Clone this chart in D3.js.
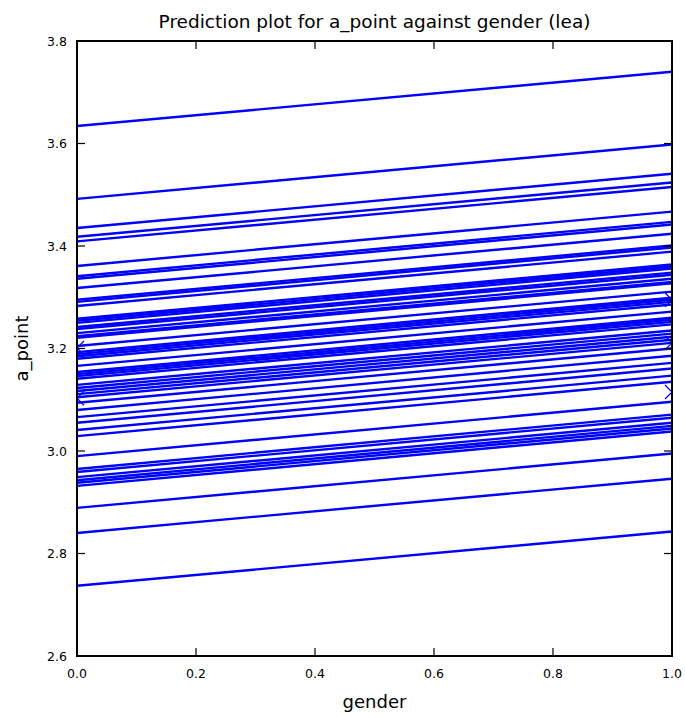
<!DOCTYPE html>
<html>
<head>
<meta charset="utf-8">
<script src="https://cdn.jsdelivr.net/npm/d3@7"></script>
<style>
  body { margin: 0; background: #fff; }
  svg { display: block; font-family: "DejaVu Sans", sans-serif; }
</style>
</head>
<body>
<svg id="chart" width="685" height="718"></svg>
<script>
// Predicted a_point per LEA at gender = 0 and gender = 1
const genderValues = [0, 1];
const predAtGender0 = [
  3.634, 3.492, 3.435, 3.418, 3.409, 3.361, 3.341, 3.336, 3.318, 3.295,
  3.291, 3.283, 3.258, 3.254, 3.250, 3.242, 3.238, 3.230, 3.224, 3.221,
  3.205, 3.193, 3.189, 3.185, 3.180, 3.166, 3.154, 3.150, 3.146, 3.141,
  3.129, 3.123, 3.117, 3.111, 3.105, 3.094, 3.080, 3.066, 3.055, 3.041,
  3.029, 2.990, 2.965, 2.959, 2.949, 2.943, 2.938, 2.932, 2.889, 2.840,
  2.737
];
const predAtGender1 = [
  3.740, 3.598, 3.541, 3.524, 3.515, 3.467, 3.447, 3.442, 3.424, 3.401,
  3.397, 3.389, 3.364, 3.360, 3.356, 3.348, 3.344, 3.336, 3.330, 3.327,
  3.311, 3.299, 3.295, 3.291, 3.286, 3.272, 3.260, 3.256, 3.252, 3.247,
  3.235, 3.229, 3.223, 3.217, 3.211, 3.200, 3.186, 3.172, 3.161, 3.147,
  3.135, 3.096, 3.071, 3.065, 3.055, 3.049, 3.044, 3.038, 2.995, 2.946,
  2.843
];
// Observed points (x markers)
const pointGender = [0, 0, 1, 1, 1];
const pointValue = [3.201, 3.103, 3.295, 3.211, 3.115];

const xTicks = [0.0, 0.2, 0.4, 0.6, 0.8, 1.0];
const yTicks = [2.6, 2.8, 3.0, 3.2, 3.4, 3.6, 3.8];

const svg = d3.select("#chart");
const margin = { left: 77, right: 13, top: 41, bottom: 62 };
const W = 685, H = 718;
const innerW = W - margin.left - margin.right;
const innerH = H - margin.top - margin.bottom;

const x = d3.scaleLinear().domain([0, 1]).range([0, innerW]);
const y = d3.scaleLinear().domain([2.6, 3.8]).range([innerH, 0]);

const g = svg.append("g").attr("transform", `translate(${margin.left},${margin.top})`);

g.append("clipPath").attr("id", "plotClip")
  .append("rect").attr("x", 0).attr("y", 0).attr("width", innerW).attr("height", innerH);

const plot = g.append("g").attr("clip-path", "url(#plotClip)");

const line = d3.line().x(d => x(d[0])).y(d => y(d[1]));
const lines = predAtGender0.map((v, i) => [[genderValues[0], v], [genderValues[1], predAtGender1[i]]]);

plot.selectAll("path.pred").data(lines).join("path")
  .attr("class", "pred")
  .attr("d", line)
  .attr("fill", "none")
  .attr("stroke", "#0000ff")
  .attr("stroke-width", 2.4);

// x markers
const ms = 7;
const pts = pointGender.map((gv, i) => [gv, pointValue[i]]);
plot.selectAll("path.pt").data(pts).join("path")
  .attr("class", "pt")
  .attr("d", d => {
    const cx = x(d[0]), cy = y(d[1]);
    return `M${cx - ms},${cy - ms}L${cx + ms},${cy + ms}M${cx - ms},${cy + ms}L${cx + ms},${cy - ms}`;
  })
  .attr("stroke", "#0000ff")
  .attr("stroke-width", 1.3)
  .attr("fill", "none");

// Ticks pointing inward on all four sides
const tickLen = 8;
const tickColor = "#000";
const axisFont = 12.5;

xTicks.forEach(t => {
  const px = x(t);
  g.append("line").attr("x1", px).attr("x2", px).attr("y1", innerH).attr("y2", innerH - tickLen)
    .attr("stroke", tickColor).attr("stroke-width", 1.2);
  g.append("line").attr("x1", px).attr("x2", px).attr("y1", 0).attr("y2", tickLen)
    .attr("stroke", tickColor).attr("stroke-width", 1.2);
  g.append("text").attr("x", px).attr("y", innerH + 12)
    .attr("text-anchor", "middle").attr("dominant-baseline", "hanging")
    .attr("font-size", axisFont).text(t.toFixed(1));
});

yTicks.forEach(t => {
  const py = y(t);
  g.append("line").attr("x1", 0).attr("x2", tickLen).attr("y1", py).attr("y2", py)
    .attr("stroke", tickColor).attr("stroke-width", 1.2);
  g.append("line").attr("x1", innerW).attr("x2", innerW - tickLen).attr("y1", py).attr("y2", py)
    .attr("stroke", tickColor).attr("stroke-width", 1.2);
  g.append("text").attr("x", -10).attr("y", py)
    .attr("text-anchor", "end").attr("dominant-baseline", "central")
    .attr("font-size", axisFont).text(t.toFixed(1));
});

// Frame
g.append("rect").attr("x", 0).attr("y", 0).attr("width", innerW).attr("height", innerH)
  .attr("fill", "none").attr("stroke", "#000").attr("stroke-width", 2);

// Title and axis labels
svg.append("text").attr("x", margin.left + innerW / 2).attr("y", 28)
  .attr("text-anchor", "middle").attr("font-size", 18.5)
  .text("Prediction plot for a_point against gender (lea)");

svg.append("text").attr("x", margin.left + innerW / 2).attr("y", 708)
  .attr("text-anchor", "middle").attr("font-size", 18)
  .text("gender");

svg.append("text")
  .attr("transform", `translate(28,${margin.top + innerH / 2}) rotate(-90)`)
  .attr("text-anchor", "middle").attr("font-size", 18)
  .text("a_point");
</script>
</body>
</html>
